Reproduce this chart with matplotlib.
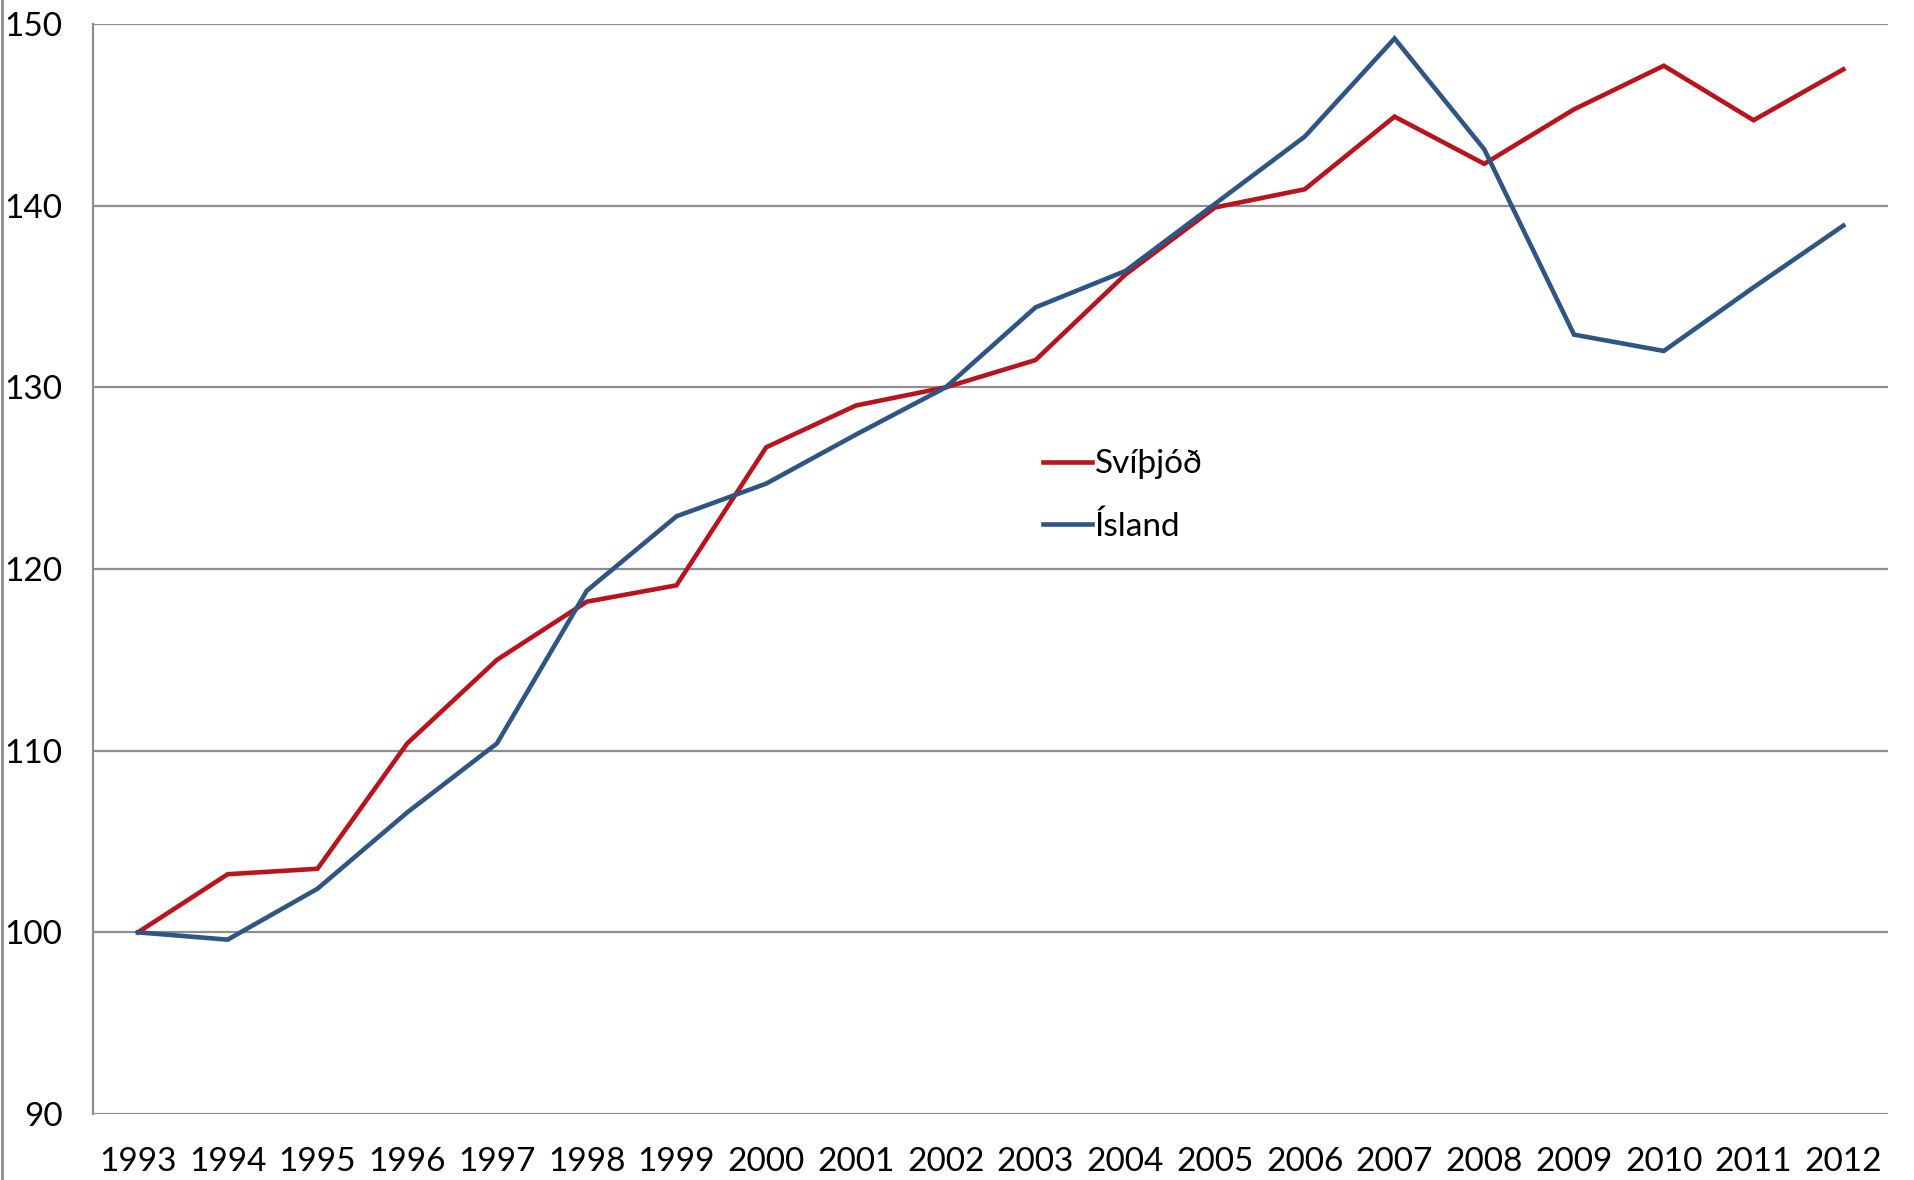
import matplotlib

matplotlib.use("Agg")
import matplotlib.pyplot as plt
from matplotlib.lines import Line2D

years = ["1993", "1994", "1995", "1996", "1997", "1998", "1999", "2000", "2001", "2002",
         "2003", "2004", "2005", "2006", "2007", "2008", "2009", "2010", "2011", "2012"]
svithjod = [100.0, 103.2, 103.5, 110.4, 115.0, 118.2, 119.1, 126.7, 129.0, 130.0,
            131.5, 136.2, 139.9, 140.9, 144.9, 142.3, 145.3, 147.7, 144.7, 147.5]
island = [100.0, 99.6, 102.4, 106.6, 110.4, 118.8, 122.9, 124.7, 127.4, 130.0,
          134.4, 136.4, 140.1, 143.8, 149.2, 143.1, 132.9, 132.0, 135.5, 138.9]
y_ticks = [90, 100, 110, 120, 130, 140, 150]

RED = "#B8141E"
BLUE = "#2F5585"
GRID = "#8E8E8E"

plt.rcParams["font.family"] = ["Lato", "DejaVu Sans"]

fig = plt.figure(figsize=(19.15, 11.8), dpi=100)
ax = fig.add_axes([0.0486, 0.0559, 0.9374, 0.9238])

pos = list(range(len(years)))
ax.plot(pos, svithjod, color=RED, linewidth=3.3, label="Svíþjóð", solid_joinstyle="miter")
ax.plot(pos, island, color=BLUE, linewidth=3.3, label="Ísland", solid_joinstyle="miter")

ax.set_xlim(-0.5, len(years) - 0.5)
ax.set_ylim(90, 150)
ax.set_xticks(pos)
ax.set_xticklabels(years)
ax.set_yticks(y_ticks)
ax.tick_params(axis="both", length=0, labelsize=24, colors="black")
ax.tick_params(axis="x", pad=24)
ax.tick_params(axis="y", pad=22)
ax.yaxis.grid(True, color=GRID, linewidth=1.6)
ax.set_axisbelow(True)
for side in ("top", "right", "bottom"):
    ax.spines[side].set_visible(False)
ax.spines["left"].set_color(GRID)
ax.spines["left"].set_linewidth(1.6)

ax.legend(
    loc="upper left",
    bbox_to_anchor=(0.522, 0.622),
    frameon=False,
    fontsize=24,
    handlelength=1.45,
    handletextpad=0.1,
    labelspacing=0.95,
    borderaxespad=0,
)

fig.add_artist(Line2D([0.001, 0.001], [0, 1], color=GRID, linewidth=2, transform=fig.transFigure))

fig.savefig("out.png", dpi=100, facecolor="white")
